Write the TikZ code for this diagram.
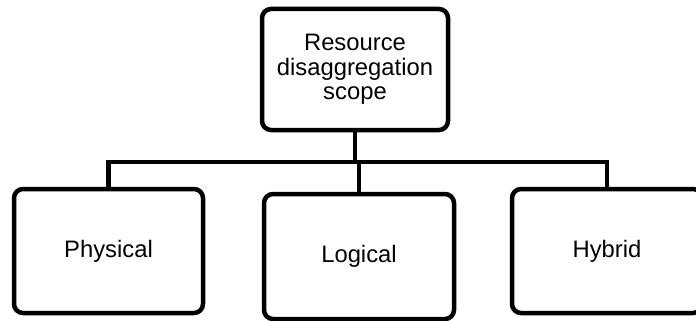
\documentclass[tikz,border=0pt]{standalone}
\usepackage{fontspec}
\setmainfont{Liberation Sans}
\begin{document}
\begin{tikzpicture}[x=1pt,y=-1pt,
  box/.style={draw=black, line width=4.5pt, rounded corners=9pt, inner sep=0pt,
    align=center, font=\fontsize{23.8}{24.7}\selectfont},
  link/.style={draw=black, line width=4.5pt}]
\useasboundingbox (0,0) rectangle (696,321);
\clip (0,0) rectangle (696,321);
\node[box, minimum width=186pt, minimum height=121pt] (top) at (355,69.5) {Resource\\disaggregation\\scope};
\node[box, minimum width=189pt, minimum height=124pt] (phy) at (108.5,251) {Physical};
\node[box, minimum width=190pt, minimum height=125pt] (log) at (359,256.5) {Logical};
\node[box, minimum width=190pt, minimum height=124pt] (hyb) at (607,251) {Hybrid};
\coordinate (j) at (355,162);
\draw[link] (top.south) -- (j);
\draw[link] (phy.north) |- (j);
\draw[link] (hyb.north) |- (j);
\draw[link] (log.north) -- (log.north |- j);
\end{tikzpicture}
\end{document}
